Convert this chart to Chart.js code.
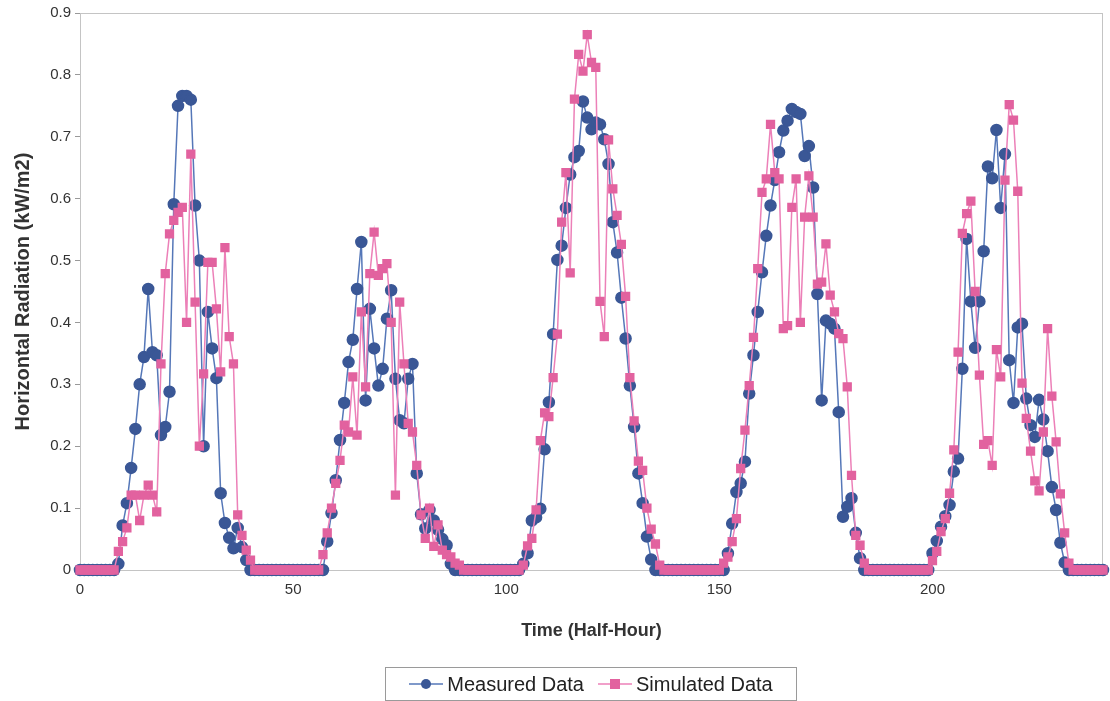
<!DOCTYPE html>
<html>
<head>
<meta charset="utf-8">
<script src="https://cdn.jsdelivr.net/npm/chart.js@4.4.1/dist/chart.umd.min.js"></script>
<style>
  body { margin: 0; background: #fff; font-family: "Liberation Sans", Arial, sans-serif; }
  #wrap { position: relative; width: 1110px; height: 701px; }
  #legend {
    position: absolute; left: 385px; top: 667px; width: 410px; height: 32px;
    border: 1px solid #9a9a9a; display: flex; align-items: center; justify-content: center;
    font-size: 20px; color: #222; gap: 14px;
  }
  #legend span { display: flex; align-items: center; gap: 4px; }
</style>
</head>
<body>
<div id="wrap">
  <canvas id="grafico" width="1110" height="701"></canvas>
  <div id="legend"></div>
</div>
<script>
// radiation, one value per half-hour (0..240)
const measured = [
  0,0,0,0,0,0,0,0,0,0.01,
  0.072,0.108,0.165,0.228,0.30,0.344,0.454,0.352,0.347,0.218,
  0.231,0.288,0.591,0.75,0.766,0.766,0.76,0.589,0.5,0.2,
  0.417,0.358,0.31,0.124,0.076,0.052,0.035,0.068,0.037,0.016,
  0,0,0,0,0,0,0,0,0,0,
  0,0,0,0,0,0,0,0,0.046,0.092,
  0.145,0.21,0.27,0.336,0.372,0.454,0.53,0.274,0.422,0.358,
  0.298,0.325,0.406,0.452,0.309,0.242,0.237,0.309,0.333,0.156,
  0.09,0.067,0.097,0.08,0.065,0.05,0.04,0.01,0,0,
  0,0,0,0,0,0,0,0,0,0,
  0,0,0,0,0.01,0.027,0.08,0.085,0.099,0.195,
  0.271,0.381,0.501,0.524,0.585,0.639,0.667,0.677,0.757,0.731,
  0.712,0.723,0.72,0.696,0.656,0.562,0.513,0.44,0.374,0.298,
  0.231,0.156,0.108,0.054,0.017,0,0,0,0,0,
  0,0,0,0,0,0,0,0,0,0,
  0,0,0.027,0.075,0.126,0.14,0.175,0.285,0.347,0.417,
  0.481,0.54,0.589,0.63,0.675,0.71,0.726,0.745,0.74,0.737,
  0.669,0.685,0.618,0.446,0.274,0.403,0.398,0.39,0.255,0.086,
  0.102,0.116,0.06,0.019,0,0,0,0,0,0,
  0,0,0,0,0,0,0,0,0,0,
  0.027,0.047,0.07,0.087,0.105,0.159,0.18,0.325,0.535,0.434,
  0.359,0.434,0.515,0.652,0.633,0.711,0.585,0.672,0.339,0.27,
  0.392,0.398,0.277,0.234,0.215,0.275,0.243,0.192,0.134,0.097,
  0.044,0.012,0,0,0,0,0,0,0,0,
  0
];

const simulated = [
  0,0,0,0,0,0,0,0,0,0.03,
  0.046,0.068,0.121,0.121,0.08,0.121,0.137,0.121,0.094,0.333,
  0.479,0.543,0.565,0.578,0.586,0.4,0.672,0.433,0.2,0.317,
  0.497,0.497,0.422,0.32,0.521,0.377,0.333,0.089,0.056,0.032,
  0.016,0,0,0,0,0,0,0,0,0,
  0,0,0,0,0,0,0,0.025,0.06,0.1,
  0.14,0.177,0.234,0.223,0.312,0.218,0.417,0.296,0.479,0.546,
  0.476,0.487,0.495,0.4,0.121,0.433,0.333,0.237,0.223,0.169,
  0.089,0.051,0.1,0.038,0.073,0.032,0.025,0.021,0.011,0.008,
  0,0,0,0,0,0,0,0,0,0,
  0,0,0,0,0.008,0.039,0.051,0.097,0.209,0.254,
  0.248,0.311,0.381,0.562,0.642,0.48,0.761,0.833,0.806,0.865,
  0.82,0.812,0.434,0.377,0.695,0.616,0.573,0.526,0.442,0.311,
  0.241,0.176,0.161,0.1,0.066,0.042,0.008,0,0,0,
  0,0,0,0,0,0,0,0,0,0,
  0,0.011,0.021,0.046,0.083,0.164,0.226,0.298,0.376,0.487,
  0.61,0.632,0.72,0.642,0.632,0.39,0.395,0.586,0.632,0.4,
  0.57,0.637,0.57,0.462,0.465,0.527,0.444,0.417,0.382,0.374,
  0.296,0.153,0.056,0.04,0.011,0,0,0,0,0,
  0,0,0,0,0,0,0,0,0,0,
  0.015,0.03,0.062,0.083,0.124,0.194,0.352,0.544,0.576,0.596,
  0.45,0.315,0.203,0.209,0.169,0.356,0.312,0.63,0.752,0.727,
  0.612,0.302,0.245,0.192,0.144,0.128,0.223,0.39,0.281,0.207,
  0.123,0.06,0.011,0,0,0,0,0,0,0,
  0
];

const xTicks = [0, 50, 100, 150, 200];
const yTicks = [0, 0.1, 0.2, 0.3, 0.4, 0.5, 0.6, 0.7, 0.8, 0.9];

const seriesNames = ["Measured Data", "Simulated Data"];
const blue = "#3a5796", blueLine = "#5577b8";
const pink = "#e2629f", pinkLine = "#ec80b8";

const halfHours = measured.map((_, i) => i);
const toPoints = arr => arr.map((v, i) => ({ x: halfHours[i], y: v }));

// borde gris alrededor del área del gráfico
const plotBorder = {
  id: "plotBorder",
  beforeDatasetsDraw(chart) {
    const { ctx, chartArea: a } = chart;
    ctx.save();
    ctx.strokeStyle = "#c4c4c4";
    ctx.lineWidth = 1;
    ctx.strokeRect(a.left + 0.5, a.top + 0.5, a.right - a.left - 1, a.bottom - a.top);
    ctx.restore();
  }
};

new Chart(document.getElementById("grafico").getContext("2d"), {
  type: "line",
  data: {
    datasets: [
      {
        label: seriesNames[0],
        data: toPoints(measured),
        borderColor: blueLine,
        backgroundColor: blue,
        pointBackgroundColor: blue,
        pointBorderColor: blue,
        pointStyle: "circle",
        pointRadius: 5.5,
        borderWidth: 1.5,
        tension: 0,
        clip: false,
        order: 1
      },
      {
        label: seriesNames[1],
        data: toPoints(simulated),
        borderColor: pinkLine,
        backgroundColor: pink,
        pointBackgroundColor: pink,
        pointBorderColor: pink,
        pointStyle: "rect",
        pointRadius: 5.5,
        borderWidth: 1.5,
        tension: 0,
        clip: false,
        order: 0
      }
    ]
  },
  options: {
    responsive: false,
    animation: false,
    layout: { padding: { left: 0, right: 2, top: 12, bottom: 51 } },
    plugins: { legend: { display: false }, tooltip: { enabled: false } },
    scales: {
      x: {
        type: "linear",
        min: 0,
        max: 240,
        afterBuildTicks: s => { s.ticks = xTicks.map(v => ({ value: v })); },
        afterFit: s => { s.height = 80; },
        ticks: { font: { family: "Liberation Sans", size: 15 }, color: "#333", padding: 6, maxRotation: 0 },
        grid: { drawOnChartArea: false, tickLength: 5, color: "#999" },
        border: { color: "#aaa" },
        title: {
          display: true,
          text: "Time (Half-Hour)",
          font: { family: "Liberation Sans", size: 18, weight: "bold" },
          color: "#333",
          padding: { top: 4, bottom: 8 }
        }
      },
      y: {
        min: 0,
        max: 0.9,
        afterBuildTicks: s => { s.ticks = yTicks.map(v => ({ value: v })); },
        afterFit: s => { s.width = 80; },
        ticks: {
          font: { family: "Liberation Sans", size: 15 },
          color: "#333",
          padding: 4,
          callback: v => String(+v.toFixed(1))
        },
        grid: { drawOnChartArea: false, tickLength: 5, color: "#999" },
        border: { color: "#999" },
        title: {
          display: true,
          text: "Horizontal Radiation (kW/m2)",
          font: { family: "Liberation Sans", size: 20, weight: "bold" },
          color: "#333",
          padding: { top: 11, bottom: 4 }
        }
      }
    }
  },
  plugins: [plotBorder]
});

// leyenda con línea y marcador, como en el original
const legend = document.getElementById("legend");
const symbols = [
  `<svg width="34" height="14"><line x1="0" y1="7" x2="34" y2="7" stroke="${blueLine}" stroke-width="1.5"/><circle cx="17" cy="7" r="5" fill="${blue}"/></svg>`,
  `<svg width="34" height="14"><line x1="0" y1="7" x2="34" y2="7" stroke="${pinkLine}" stroke-width="1.5"/><rect x="12" y="2" width="10" height="10" fill="${pink}"/></svg>`
];
legend.innerHTML = seriesNames.map((n, i) => `<span>${symbols[i]}${n}</span>`).join("");
</script>
</body>
</html>
